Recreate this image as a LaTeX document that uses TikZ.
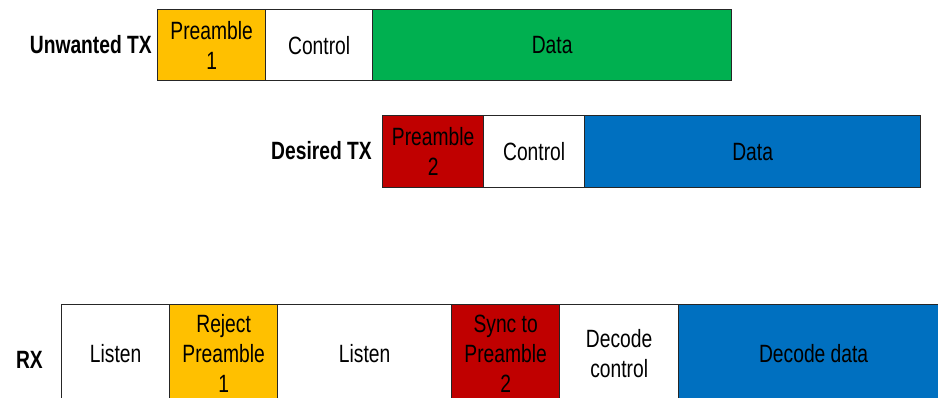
\documentclass[tikz,border=0pt]{standalone}
\usepackage{fontspec}
\setmainfont{Liberation Sans}[FakeStretch=0.77]
\definecolor{preA}{HTML}{FFC000}
\definecolor{preB}{HTML}{C00000}
\definecolor{dataG}{HTML}{00B050}
\definecolor{dataB}{HTML}{0070C0}
\begin{document}
\begin{tikzpicture}[x=1pt,y=1pt,
  seg/.style={draw=black!85, line width=1.3pt, anchor=north west, inner sep=0pt,
    align=center, font=\fontsize{25}{30}\selectfont},
  rowlabel/.style={anchor=east, inner sep=0pt, font=\fontsize{25}{30}\selectfont\bfseries}]
\clip (0,-397) rectangle (938,0);

% Unwanted transmission
\node[seg, fill=preA, minimum width=108, minimum height=71] (u1) at (157,-9) {Preamble\\1};
\node[seg, fill=white, minimum width=107, minimum height=71] (u2) at (265,-9) {Control};
\node[seg, fill=dataG, minimum width=359, minimum height=71] (u3) at (372,-9) {Data};
\node[rowlabel] (ul) at (152,-45) {Unwanted TX};

% Desired transmission
\node[seg, fill=preB, minimum width=101, minimum height=72] (d1) at (382,-115) {Preamble\\2};
\node[seg, fill=white, minimum width=101, minimum height=72] (d2) at (483,-115) {Control};
\node[seg, fill=dataB, minimum width=336, minimum height=72] (d3) at (584,-115) {Data};
\node[rowlabel] (dl) at (372,-151) {Desired TX};

% Receiver timeline
\node[seg, fill=white, minimum width=108, minimum height=98] (r1) at (61,-304) {Listen};
\node[seg, fill=preA, minimum width=108, minimum height=98] (r2) at (169,-304) {Reject\\Preamble\\1};
\node[seg, fill=white, minimum width=174, minimum height=98] (r3) at (277,-304) {Listen};
\node[seg, fill=preB, minimum width=108, minimum height=98] (r4) at (451,-304) {Sync to\\Preamble\\2};
\node[seg, fill=white, minimum width=119, minimum height=98] (r5) at (559,-304) {Decode\\control};
\node[seg, fill=dataB, minimum width=270, minimum height=98] (r6) at (678,-304) {Decode data};
\node[rowlabel] (rl) at (43,-360) {RX};
\end{tikzpicture}
\end{document}
